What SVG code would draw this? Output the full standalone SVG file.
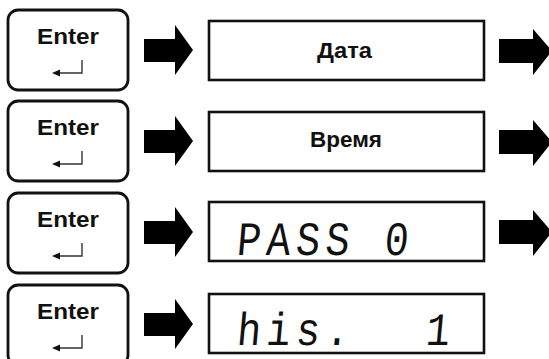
<svg xmlns="http://www.w3.org/2000/svg" width="549" height="359" viewBox="0 0 549 359">
<style>
.key{fill:#fff;stroke:#111;stroke-width:2.8}
.box{fill:#fff;stroke:#111;stroke-width:2.6}
.kt{font-family:"Liberation Sans",Arial,sans-serif;font-weight:bold;font-size:22px;fill:#111}
.lbl{font-family:"Liberation Sans",Arial,sans-serif;font-weight:bold;font-size:22px;fill:#111}
.seg{font-family:"Liberation Mono",monospace;font-size:40px;letter-spacing:5.5px;fill:#111}
.ret{fill:none;stroke:#333;stroke-width:1.4}
.arr{fill:#000}
</style>
<defs>
<g id="enterkey">
<rect class="key" x="8" y="0" width="120" height="80" rx="10"/>
<text class="kt" x="37" y="34" textLength="62" lengthAdjust="spacingAndGlyphs">Enter</text>
<polyline class="ret" points="82,50 82,63 58,63"/>
<polygon points="52,63 60,59.5 60,66.5" fill="#111"/>
</g>
<polygon id="larr" points="144,-11 175,-11 175,-25 193,0 175,25 175,12 144,12"/>
<polygon id="rarr" points="499,-12 533,-12 533,-22 552,0 533,24 533,12 499,12"/>
</defs>
<g id="key1"><use href="#enterkey" y="10"/></g>
<g id="key2"><use href="#enterkey" y="101"/></g>
<g id="key3"><use href="#enterkey" y="193"/></g>
<g id="key4"><use href="#enterkey" y="285"/></g>
<g id="box1"><rect class="box" x="209" y="21" width="275" height="59"/><text class="lbl" x="317" y="58" textLength="55" lengthAdjust="spacingAndGlyphs">Дата</text></g>
<g id="box2"><rect class="box" x="209" y="112" width="275" height="59"/><text class="lbl" x="310" y="147" textLength="72" lengthAdjust="spacingAndGlyphs">Время</text></g>
<g id="box3"><rect class="box" x="209" y="202" width="275" height="59"/><text class="seg" transform="translate(236,255) scale(1,1.2) skewX(-6)" x="0" y="0" xml:space="preserve">PASS 0</text></g>
<g id="box4"><rect class="box" x="209" y="294" width="275" height="59"/><text class="seg" transform="translate(236,345) scale(1,1.16) skewX(-6)" x="0" y="0">his.<tspan x="189">1</tspan></text></g>
<g id="connectors" class="arr">
<use href="#larr" y="50"/>
<use href="#larr" y="141"/>
<use href="#larr" y="232"/>
<use href="#larr" y="324"/>
<use href="#rarr" y="51"/>
<use href="#rarr" y="142"/>
<use href="#rarr" y="232"/>
</g>
</svg>
